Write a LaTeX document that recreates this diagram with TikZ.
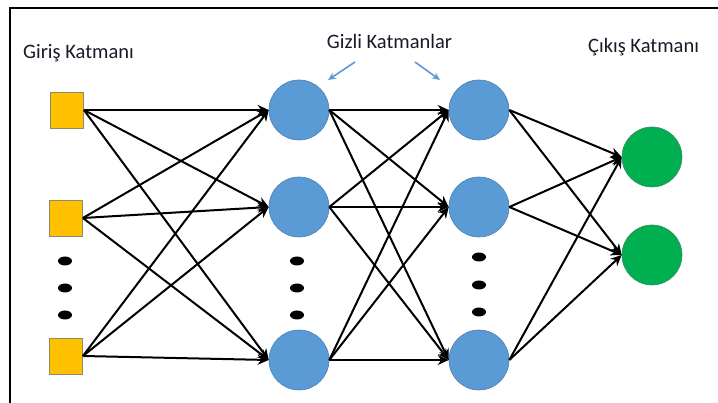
\documentclass[tikz,border=0pt]{standalone}
\usepackage{fontspec}
\setmainfont{Carlito}
\usetikzlibrary{arrows.meta,shapes.geometric}
\definecolor{hidblue}{HTML}{5B9BD5}
\definecolor{hidedge}{HTML}{4A7EB0}
\definecolor{inyel}{HTML}{FFC000}
\definecolor{inedge}{HTML}{8C8C6A}
\definecolor{outgreen}{HTML}{00B050}
\definecolor{outedge}{HTML}{3C8C64}
\definecolor{labtxt}{HTML}{1A1A28}
\tikzset{
  inbox/.style={rectangle, draw=inedge, line width=0.8pt, fill=inyel, minimum width=33pt, minimum height=36pt, inner sep=0pt},
  hidnode/.style={circle, draw=hidedge, line width=0.6pt, fill=hidblue, minimum size=60pt, inner sep=0pt},
  outnode/.style={circle, draw=outedge, line width=0.6pt, fill=outgreen, minimum size=60pt, inner sep=0pt},
  vdot/.style={ellipse, fill=black, minimum width=14pt, minimum height=9pt, inner sep=0pt},
  wire/.style={draw=black, line width=2pt, -{Stealth[length=11pt,width=10pt]}},
  pointer/.style={draw=hidblue, line width=1.6pt, -{Stealth[length=8pt,width=7pt]}},
  layerlabel/.style={font=\fontsize{20.5}{24}\selectfont, text=labtxt, inner sep=0pt}
}
\begin{document}
\begin{tikzpicture}[x=1pt,y=-1pt]
\useasboundingbox (0,0) rectangle (718,403);
\fill[white] (0,0) rectangle (718,403);
% open frame: left and top edges only
\draw[line width=2pt, line cap=rect] (10,403) -- (10,8) -- (718,8);

% input layer
\node[inbox] (i1) at (67,110) {};
\node[inbox] (i2) at (66,218) {};
\node[inbox] (i3) at (66,356) {};
% first hidden layer
\node[hidnode] (a1) at (299,110) {};
\node[hidnode] (a2) at (299,207) {};
\node[hidnode] (a3) at (299,360) {};
% second hidden layer
\node[hidnode] (b1) at (479,110) {};
\node[hidnode] (b2) at (479,207) {};
\node[hidnode] (b3) at (479,360) {};
% output layer
\node[outnode] (o1) at (652,157) {};
\node[outnode] (o2) at (652,255) {};

% ellipsis dots
\node[vdot] (d1) at (65,261) {};
\node[vdot] (d2) at (65,288) {};
\node[vdot] (d3) at (65,315) {};
\node[vdot] (e1) at (297,261) {};
\node[vdot] (e2) at (297,288) {};
\node[vdot] (e3) at (297,315) {};
\node[vdot] (f1) at (479,257) {};
\node[vdot] (f2) at (479,285) {};
\node[vdot] (f3) at (479,312) {};

% fully connected weights
\foreach \s in {i1,i2,i3}
  \foreach \t in {a1,a2,a3}
    \draw[wire] (\s.east) -- (\t.west);
\foreach \s in {a1,a2,a3}
  \foreach \t in {b1,b2,b3}
    \draw[wire] (\s.east) -- (\t.west);
\foreach \s in {b1,b2,b3}
  \foreach \t in {o1,o2}
    \draw[wire] (\s.east) -- (\t.west);

% layer captions
\node[layerlabel, anchor=base west] (linp) at (23,59) {Giriş Katmanı};
\node[layerlabel, anchor=base] (lhid) at (389.5,49) {Gizli Katmanlar};
\node[layerlabel, anchor=base west] (lout) at (588,53) {Çıkış Katmanı};

% pointers to the hidden layers
\coordinate (pl) at (355,62);
\coordinate (pr) at (415,62);
\coordinate (ql) at (328,80);
\coordinate (qr) at (440,80);
\draw[pointer] (pl) -- (ql);
\draw[pointer] (pr) -- (qr);
\end{tikzpicture}
\end{document}
